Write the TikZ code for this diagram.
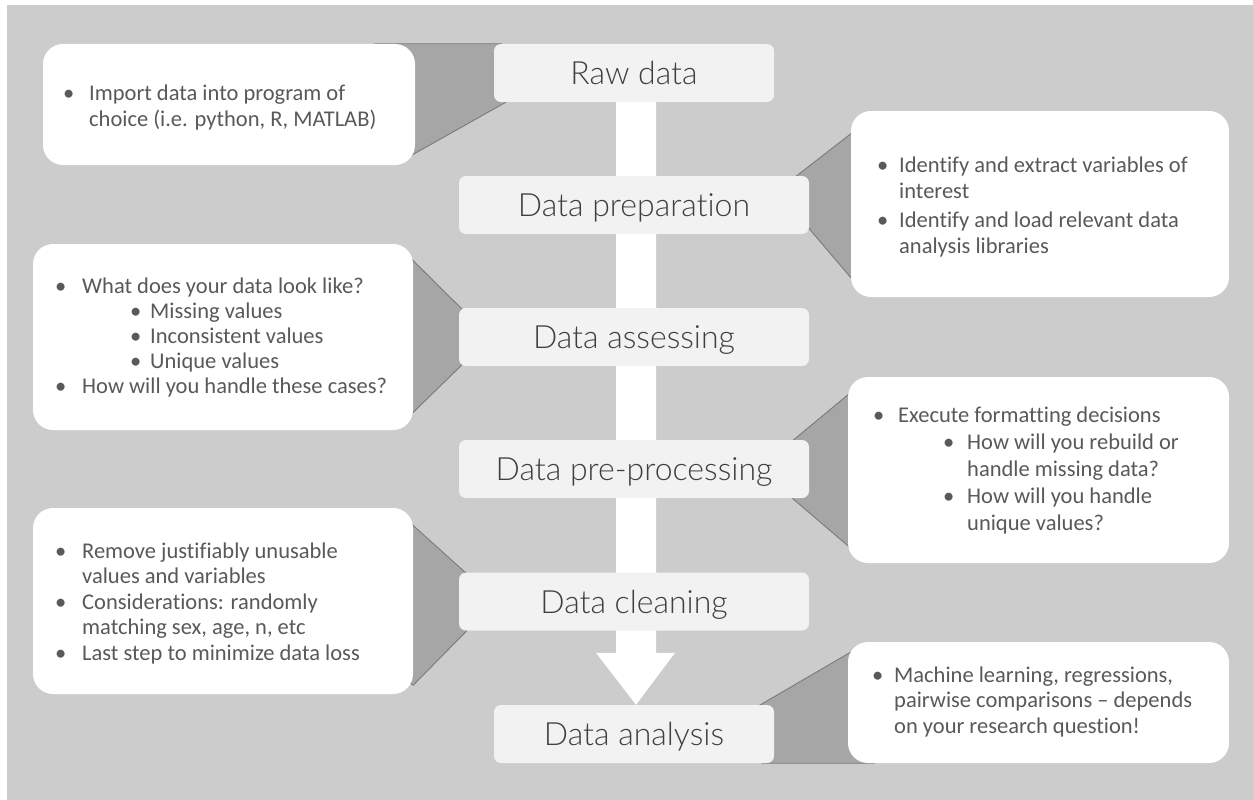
\documentclass[tikz,border=0pt]{standalone}
\usepackage{fontspec}
\setmainfont{Carlito}[Ligatures={NoCommon}]
\newfontfamily\lightf{Lato Light}[Ligatures={NoCommon}]
\usetikzlibrary{calc}
\definecolor{bgc}{HTML}{CCCCCC}
\definecolor{stepc}{HTML}{F2F2F2}
\definecolor{wedgec}{HTML}{A6A6A6}
\definecolor{wedgeline}{HTML}{7A7A7A}
\definecolor{txtc}{HTML}{595959}
\definecolor{steptxt}{HTML}{3F3F3F}
\pgfdeclarelayer{bglayer}
\pgfdeclarelayer{midlayer}
\pgfsetlayers{bglayer,midlayer,main}
\newcommand\itm[2]{\makebox[#1][l]{\textbullet}#2}
\begin{document}
\begin{tikzpicture}[x=1pt,y=-1pt,
  stepbox/.style={rectangle, rounded corners=7pt, fill=stepc, inner sep=0pt, text=steptxt,
    font=\lightf\fontsize{32}{40}\selectfont, text height=23pt, text depth=0pt, minimum height=58pt},
  callout/.style={rectangle, rounded corners=20pt, fill=white, inner sep=0pt},
  wedge/.style={fill=wedgec, draw=wedgeline, line width=0.9pt, line join=round},
  txtblk/.style={anchor=base west, inner sep=0pt, text=txtc, font=\fontsize{22.5}{26}\selectfont}]
\useasboundingbox (0,0) rectangle (1253,800);
\begin{pgfonlayer}{bglayer}
\fill[white] (0,0) rectangle (1253,800);
\fill[bgc] (7,5) rectangle (1253,800);
\end{pgfonlayer}

% step boxes
\node[stepbox, minimum width=280pt] (raw) at (634,73) {Raw data};
\node[stepbox, minimum width=350pt] (prep) at (634,205) {Data preparation};
\node[stepbox, minimum width=350pt] (assess) at (634,337) {Data assessing};
\node[stepbox, minimum width=350pt] (preproc) at (634,469) {Data pre-processing};
\node[stepbox, minimum width=350pt] (clean) at (634,601.5) {Data cleaning};
\node[stepbox, minimum width=280pt] (anal) at (634,734) {Data analysis};

% callout boxes
\node[callout, minimum width=372pt, minimum height=121pt] (c1) at (229,104.5) {};
\node[callout, minimum width=378pt, minimum height=186pt] (c2) at (1040,204) {};
\node[callout, minimum width=380pt, minimum height=186pt] (c3) at (223,337) {};
\node[callout, minimum width=381pt, minimum height=186pt] (c4) at (1038.5,470) {};
\node[callout, minimum width=380pt, minimum height=186pt] (c5) at (223,601) {};
\node[callout, minimum width=381pt, minimum height=121pt] (c6) at (1038.5,702.5) {};

\begin{pgfonlayer}{midlayer}
% big white arrow
\fill[white] ($(raw.south)+(-18,-2)$) -- ($(raw.south)+(22,-2)$) -- ($(anal.north)+(22,-52)$)
  -- ($(anal.north)+(41,-52)$) -- ($(anal.north)+(2,0)$) -- ($(anal.north)+(-38,-52)$)
  -- ($(anal.north)+(-18,-52)$) -- cycle;
% wedges
\path[wedge] ($(c1.north east)+(-40,0)$) -- ($(raw.north west)+(8,0)$) -- ($(raw.south west)+(21,-5)$)
  -- ($(c1.south east)+(-16,-3)$) -- (c1.center) -- cycle;
\path[wedge] ($(prep.north east)+(-19,5)$) -- ($(c2.north west)+(9,16)$) -- ($(c2.south west)+(9,-9)$)
  -- ($(prep.south east)+(-9,-16)$) -- cycle;
\path[wedge] ($(c3.north east)+(-15,2)$) -- ($(assess.north west)+(11,9)$) -- ($(assess.south west)+(11,-9)$)
  -- ($(c3.south east)+(-7,-11)$) -- cycle;
\path[wedge] ($(preproc.north east)+(-24,7)$) -- ($(c4.north west)+(17,4)$) -- ($(c4.south west)+(17,-3)$)
  -- ($(preproc.south east)+(-24,-6)$) -- cycle;
\path[wedge] ($(c5.north east)+(-13,6)$) -- ($(clean.north west)+(13,6)$) -- ($(clean.south west)+(13,-5)$)
  -- ($(c5.south east)+(0,-9)$) -- ($(c5.south east)+(-30,-30)$) -- cycle;
\path[wedge] ($(anal.north east)+(-19,3)$) -- ($(c6.north west)+(12,5)$) -- ($(c6.south west)+(27,0)$)
  -- ($(anal.south east)+(-12,0)$) -- cycle;
\end{pgfonlayer}

% texts
\node[txtblk] (t1) at (63,100) {\parbox[t]{360pt}{\itm{26pt}{Import data into program of}\\
  \hspace*{26pt}choice (i.e. python, R, MATLAB)}};
\node[txtblk] (t2) at (877,172) {\parbox[t]{360pt}{\itm{22pt}{Identify and extract variables of}\\
  \hspace*{22pt}interest\\[3pt]
  \itm{22pt}{Identify and load relevant data}\\
  \hspace*{22pt}analysis libraries}};
\node[txtblk, font=\fontsize{22.5}{25}\selectfont] (t3) at (55,293) {\parbox[t]{360pt}{\itm{27pt}{What does your data look like?}\\
  \hspace*{75pt}\itm{20pt}{Missing values}\\
  \hspace*{75pt}\itm{20pt}{Inconsistent values}\\
  \hspace*{75pt}\itm{20pt}{Unique values}\\
  \itm{27pt}{How will you handle these cases?}}};
\node[txtblk, font=\fontsize{22.5}{27}\selectfont] (t4) at (873,422) {\parbox[t]{360pt}{\itm{25pt}{Execute formatting decisions}\\
  \hspace*{70pt}\itm{24pt}{How will you rebuild or}\\
  \hspace*{94pt}handle missing data?\\
  \hspace*{70pt}\itm{24pt}{How will you handle}\\
  \hspace*{94pt}unique values?}};
\node[txtblk, font=\fontsize{22.5}{25.5}\selectfont] (t5) at (55,558) {\parbox[t]{360pt}{\itm{27pt}{Remove justifiably unusable}\\
  \hspace*{27pt}values and variables\\
  \itm{27pt}{Considerations: randomly}\\
  \hspace*{27pt}matching sex, age, n, etc\\
  \itm{27pt}{Last step to minimize data loss}}};
\node[txtblk, font=\fontsize{22.5}{25.5}\selectfont] (t6) at (872,682) {\parbox[t]{360pt}{\itm{22pt}{Machine learning, regressions,}\\
  \hspace*{22pt}pairwise comparisons – depends\\
  \hspace*{22pt}on your research question!}};
\end{tikzpicture}
\end{document}
